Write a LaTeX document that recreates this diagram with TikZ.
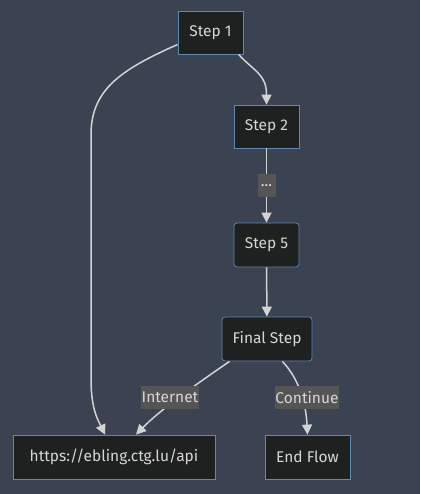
\documentclass[tikz,border=0pt]{standalone}
\usepackage{fontspec}
\setmainfont{Fira Sans}
\usetikzlibrary{arrows.meta}
\definecolor{bgcol}{RGB}{59,66,82}
\definecolor{boxfill}{RGB}{31,32,32}
\definecolor{boxline}{RGB}{94,137,180}
\definecolor{linecol}{RGB}{211,211,211}
\definecolor{txtcol}{RGB}{214,214,214}
\definecolor{lblfill}{RGB}{85,85,85}
\begin{document}
\begin{tikzpicture}[x=1pt,y=1pt,yscale=-1,
  stepbox/.style={draw=boxline,fill=boxfill,text=txtcol,line width=0.8pt,inner sep=0pt,minimum height=43pt,font=\fontsize{15.5}{17}\selectfont},
  roundbox/.style={stepbox,rounded corners=3pt},
  lbl/.style={fill=lblfill,text=txtcol,inner sep=0pt,minimum height=23pt,font=\fontsize{15.5}{17}\selectfont},
  flow/.style={draw=linecol,line width=1.5pt,-{Triangle[length=10pt,width=10pt]}}]
%uncomment if require: \path (0,494); %set diagram left start at 0, and has height of 494
\path[fill=bgcol] (0,0) rectangle (420,494);

% Step Nodes
\node[stepbox,minimum width=65pt] (s1) at (210.5,32.5) {Step 1};
\node[stepbox,minimum width=65pt] (s2) at (266.5,126.5) {Step 2};
\node[roundbox,minimum width=65pt,minimum height=44pt] (s5) at (266.5,245) {Step 5};
\node[roundbox,minimum width=90pt,minimum height=44pt] (fin) at (267,339) {Final Step};
\node[stepbox,minimum width=202pt,minimum height=44pt] (api) at (114,457) {https://ebling.ctg.lu/api};
\node[stepbox,minimum width=85pt,minimum height=44pt] (end) at (307.5,457) {End Flow};

%Straight Lines
\draw[flow] ([xshift=28pt]s1.south) .. controls ([xshift=45pt,yshift=18pt]s1.south) and ([yshift=-30pt]s2.north) .. (s2.north);
\draw[flow] (s2) -- (s5) node[lbl,minimum width=18pt,minimum height=22pt,pos=0.5] (dots) {...};
\draw[flow] (s5) -- (fin);
\draw[flow] ([yshift=12pt]s1.west) .. controls (120,70) and (91,90) .. (91,135) -- (91,380) .. controls (91,410) and (99,422) .. ([xshift=-9pt]api.north);
\draw[flow] ([xshift=8pt]fin.south west) .. controls (195,385) and (160,410) .. ([xshift=22pt]api.north);
\draw[flow] ([xshift=-30pt]fin.south east) .. controls (300,380) and (306,405) .. (end.north);

% Text Node
\node[lbl,minimum width=58pt] (inet) at (170,397.5) {Internet};
\node[lbl,minimum width=64pt] (cont) at (307,397.5) {Continue};

\end{tikzpicture}
\end{document}
